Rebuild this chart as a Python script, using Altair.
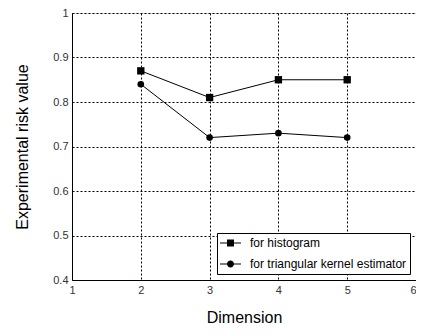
import altair as alt
import pandas as pd

dims = [2, 3, 4, 5]
hist_vals = [0.87, 0.81, 0.85, 0.85]
tri_vals = [0.84, 0.72, 0.73, 0.72]
series_names = ["for histogram", "for triangular kernel estimator"]
x_ticks = [1, 2, 3, 4, 5, 6]
y_ticks = [0.4, 0.5, 0.6, 0.7, 0.8, 0.9, 1.0]

rows = []
for d, v in zip(dims, hist_vals):
    rows.append({"dim": d, "val": v, "series": series_names[0]})
for d, v in zip(dims, tri_vals):
    rows.append({"dim": d, "val": v, "series": series_names[1]})
df = pd.DataFrame(rows)

FONT = "Liberation Sans"

x = alt.X("dim:Q",
          scale=alt.Scale(domain=[1, 6], nice=False, zero=False),
          axis=alt.Axis(values=x_ticks, format="d", title="Dimension",
                        grid=True, gridDash=[2, 2], gridColor="#000", gridOpacity=1, gridWidth=1,
                        ticks=False, labelPadding=4, labelFontSize=11, labelColor="#333",
                        labelAlign={"condition": {"test": "datum.value >= 6", "value": "right"},
                                    "value": "center"},
                        labelFont=FONT, titleFont=FONT, titleFontSize=16, titleFontWeight="normal",
                        titleColor="#000", titlePadding=14, domainColor="#000", labelFlush=False))
y = alt.Y("val:Q",
          scale=alt.Scale(domain=[0.4, 1.0], nice=False, zero=False),
          axis=alt.Axis(values=y_ticks, format="~g", title="Experimental risk value",
                        grid=True, gridDash=[2, 2], gridColor="#000", gridOpacity=1, gridWidth=1,
                        ticks=False, labelPadding=4, labelFontSize=11, labelColor="#333",
                        labelFont=FONT, titleFont=FONT, titleFontSize=16, titleFontWeight="normal",
                        titleColor="#000", titlePadding=22, domainColor="#000", labelFlush=False))

base = alt.Chart(df)

lines = base.mark_line(color="black", strokeWidth=1).encode(x=x, y=y, detail="series:N")

points = base.mark_point(filled=True, opacity=1, color="black").encode(
    x=x, y=y,
    shape=alt.Shape("series:N", scale=alt.Scale(domain=series_names, range=["square", "circle"]),
                    legend=None),
    size=alt.Size("series:N", scale=alt.Scale(domain=series_names, range=[54, 44]), legend=None),
)

bar = "M-1.75,-0.09H1.75V0.09H-1.75Z"
sq_path = bar + "M-0.58,-0.58H0.58V0.58H-0.58Z"
ci_path = bar + "M0.58,0A0.58,0.58,0,1,1,-0.58,0A0.58,0.58,0,1,1,0.58,0Z"

legend = alt.Legend(
    title=None, orient="none", legendX=145, legendY=220,
    direction="vertical",
    strokeColor="black", fillColor="white", padding=3,
    symbolSize=144, symbolOpacity=1, symbolFillColor="black",
    symbolOffset=3.5,
    labelFont=FONT, labelFontSize=12, labelColor="#000",
    labelOffset=12.5, rowPadding=7,
)

legend_layer = base.mark_point(filled=True, opacity=0, color="black", size=144).encode(
    x=x, y=y,
    shape=alt.Shape("series:N", scale=alt.Scale(domain=series_names, range=[sq_path, ci_path]),
                    legend=legend),
)

chart = alt.layer(lines, points, legend_layer).resolve_scale(shape="independent").properties(
    width=344, height=267,
    padding={"left": 64, "top": 5, "right": 0, "bottom": 48},
    autosize=alt.AutoSizeParams(type="none"),
).configure_view(stroke="black", strokeWidth=1).configure(font=FONT, background="white")

chart.save("out.html", embed_options={"renderer": "svg", "actions": False})
